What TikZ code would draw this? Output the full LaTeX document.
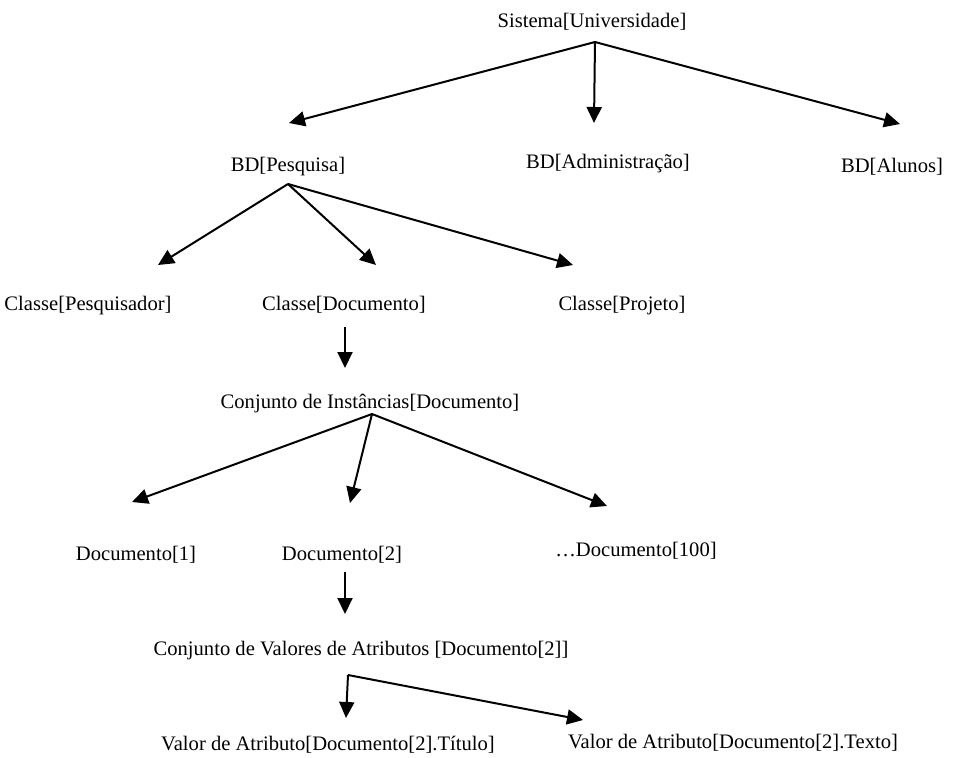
\documentclass[tikz,border=0pt]{standalone}
\usepackage{fontspec}
\setmainfont{Liberation Serif}
\usetikzlibrary{arrows.meta}
\begin{document}
\begin{tikzpicture}[x=1pt,y=-1pt,
  lbl/.style={inner sep=0pt,anchor=base,font=\fontsize{20.6}{24}\selectfont},
  link/.style={line width=2pt,-{Triangle[length=16pt,width=15pt]}}]
\useasboundingbox (0,0) rectangle (954,758);

% labels
\node[lbl] (sis)  at (592,27)  {Sistema[Universidade]};
\node[lbl] (pes)  at (288,171) {BD[Pesquisa]};
\node[lbl] (adm)  at (608,168) {BD[Administração]};
\node[lbl] (alu)  at (892,172) {BD[Alunos]};
\node[lbl] (cpe)  at (88,310)  {Classe[Pesquisador]};
\node[lbl] (cdo)  at (344,310) {Classe[Documento]};
\node[lbl] (cpr)  at (622,310) {Classe[Projeto]};
\node[lbl] (cin)  at (370,408) {Conjunto de Instâncias[Documento]};
\node[lbl] (d1)   at (136,560) {Documento[1]};
\node[lbl] (d2)   at (342,560) {Documento[2]};
\node[lbl] (d100) at (636,556) {\dots Documento[100]};
\node[lbl] (cva)  at (361,655) {Conjunto de Valores de Atributos [Documento[2]]};
\node[lbl] (vti)  at (328,750) {Valor de Atributo[Documento[2].Título]};
\node[lbl] (vte)  at (733,748) {Valor de Atributo[Documento[2].Texto]};

% connector end points
\coordinate (sis-o) at (595,42);
\coordinate (pes-i) at (289,123);
\coordinate (adm-i) at (594,123);
\coordinate (alu-i) at (900,124);
\coordinate (pes-o) at (288,184);
\coordinate (cpe-i) at (158,265);
\coordinate (cdo-i) at (376,265);
\coordinate (cpr-i) at (573,265);
\coordinate (cdo-o) at (345,327);
\coordinate (cin-i) at (345,368);
\coordinate (cin-o) at (372,414);
\coordinate (d1-i)  at (132,502);
\coordinate (d2-i)  at (350,503);
\coordinate (d100-i) at (607,506);
\coordinate (d2-o)  at (345,572);
\coordinate (cva-i) at (345,614);
\coordinate (cva-o) at (348,675);
\coordinate (vti-i) at (346,718);
\coordinate (vte-i) at (583,720);

% arrows
\draw[link] (sis-o) -- (pes-i);
\draw[link] (sis-o) -- (adm-i);
\draw[link] (sis-o) -- (alu-i);
\draw[link] (pes-o) -- (cpe-i);
\draw[link] (pes-o) -- (cdo-i);
\draw[link] (pes-o) -- (cpr-i);
\draw[link] (cdo-o) -- (cin-i);
\draw[link] (cin-o) -- (d1-i);
\draw[link] (cin-o) -- (d2-i);
\draw[link] (cin-o) -- (d100-i);
\draw[link] (d2-o) -- (cva-i);
\draw[link] (cva-o) -- (vti-i);
\draw[link] (cva-o) -- (vte-i);
\end{tikzpicture}
\end{document}
